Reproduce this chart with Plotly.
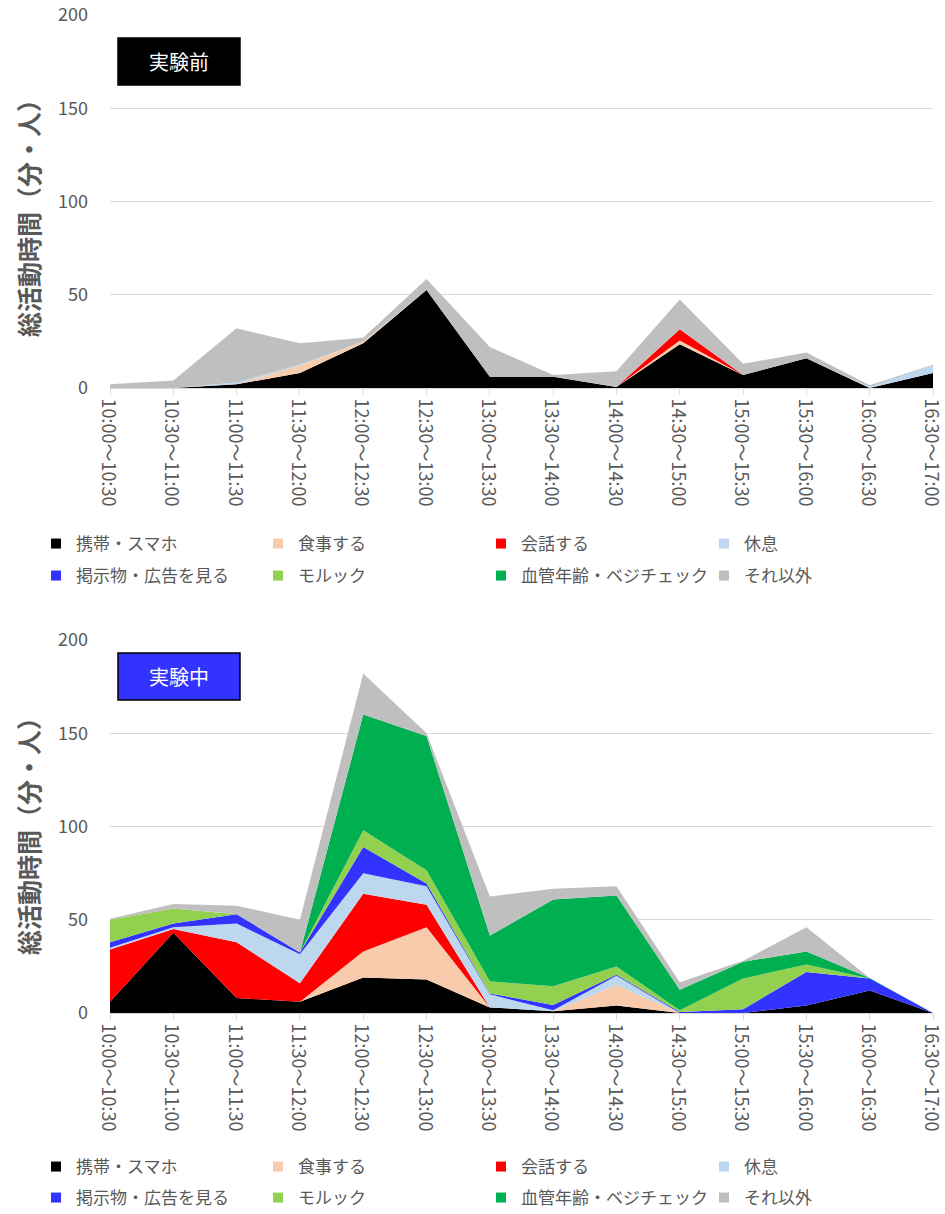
import plotly.graph_objects as go

# ---------------- data ----------------
time_labels = ["10:00～10:30", "10:30～11:00", "11:00～11:30", "11:30～12:00",
               "12:00～12:30", "12:30～13:00", "13:00～13:30", "13:30～14:00",
               "14:00～14:30", "14:30～15:00", "15:00～15:30", "15:30～16:00",
               "16:00～16:30", "16:30～17:00"]

series_names = ["携帯・スマホ", "食事する", "会話する", "休息",
                "掲示物・広告を見る", "モルック", "血管年齢・ベジチェック", "それ以外"]
series_colors = ["#000000", "#F8CBAD", "#FF0000", "#BDD7EE",
                 "#3333FF", "#92D050", "#00B050", "#BFBFBF"]

# 実験前 (before)
phone_before  = [0, 0, 2, 8, 24, 52.5, 6, 6, 0.5, 23.5, 7, 16, 0, 8]
meal_before   = [0, 0, 0, 4, 1, 0, 0, 0, 0, 2, 0, 0, 0, 0]
talk_before   = [0, 0, 0, 0, 0, 0, 0, 0, 0, 6, 0, 0, 0, 0]
rest_before   = [0, 0, 1, 0.5, 0, 0, 0, 0, 0, 0, 0, 0, 0.5, 4]
poster_before = [0, 0, 0, 0, 0, 0, 0, 0, 0, 0, 0, 0, 0, 0]
molkky_before = [0, 0, 0, 0, 0, 0, 0, 0, 0, 0, 0, 0, 0, 0]
vessel_before = [0, 0, 0, 0, 0, 0, 0, 0, 0, 0, 0, 0, 0, 0]
other_before  = [2, 4, 29, 11.5, 2, 6, 16, 1, 8.5, 16, 6, 3, 1, 0.5]

# 実験中 (during)
phone_during  = [6, 43, 8, 6, 19, 18, 3, 1, 4, 0, 0, 4, 12, 0]
meal_during   = [0, 0, 0, 0, 14, 28, 0, 0, 11, 0, 0, 0, 0, 0]
talk_during   = [28, 2, 30, 10, 31, 12, 0, 0, 0, 0, 0, 0, 0, 0]
rest_during   = [1, 1, 10, 15.5, 11, 10, 7, 0.5, 5, 0, 0, 0, 0, 0]
poster_during = [3, 2, 5, 1, 14, 1.5, 0.5, 2.8, 0.5, 0.5, 2, 18, 6.5, 0]
molkky_during = [12, 8, 0, 0, 9, 7, 6.5, 10, 4.5, 1, 16.5, 4, 0, 0]
vessel_during = [0, 0, 0, 0, 62, 72, 24.5, 46.5, 38, 11, 9, 7, 0.3, 0]
other_during  = [0.5, 2.5, 4.5, 17.5, 22, 1.5, 21, 5.8, 5, 4, 0.5, 13, 0, 0]

y_ticks = [0, 50, 100, 150, 200]
panel_titles = ["実験前", "実験中"]
y_title = "総活動時間（分・人）"

before = [phone_before, meal_before, talk_before, rest_before,
          poster_before, molkky_before, vessel_before, other_before]
during = [phone_during, meal_during, talk_during, rest_during,
          poster_during, molkky_during, vessel_during, other_during]

# ---------------- figure ----------------
FONT = "Noto Sans CJK JP"
GRAY_TXT = "#595959"
GRID = "#D9D9D9"
x_idx = list(range(len(time_labels)))

M_L, M_R, M_T, M_B = 110, 12, 15, 201
H_PLOT = 1214 - M_T - M_B
W_PLOT = 945 - M_L - M_R


def py(px):
    return (1013 - px) / H_PLOT


def pxx(px):
    return (px - M_L) / W_PLOT


fig = go.Figure()

col_centers = [60, 282, 505, 728]
panels = [("x", "y", before, "top", [544, 576]),
          ("x2", "y2", during, "bot", [1167, 1198])]

legend_layouts = {}
leg_n = 0
for xa, ya, data, grp, rows in panels:
    for i, (name, color, vals) in enumerate(zip(series_names, series_colors, data)):
        fig.add_trace(go.Scatter(
            x=x_idx, y=vals, name=name, xaxis=xa, yaxis=ya,
            stackgroup=grp, mode="lines", line=dict(width=0, color=color),
            fillcolor=color, showlegend=False, legendgroup=grp + str(i),
            hovertemplate=name + ": %{y}<extra></extra>"))
    for i, (name, color) in enumerate(zip(series_names, series_colors)):
        leg_n += 1
        key = "legend" if leg_n == 1 else "legend%d" % leg_n
        fig.add_trace(go.Scatter(
            x=[None], y=[None], name=name, xaxis=xa, yaxis=ya,
            mode="markers", marker=dict(symbol="square", size=10, color=color),
            legend=key, legendgroup=grp + str(i), showlegend=True))
        cx = col_centers[i % 4]
        ry = rows[i // 4]
        legend_layouts[key] = dict(
            orientation="h", xanchor="left", yanchor="middle",
            x=pxx(cx - 24), y=py(ry), bgcolor="rgba(0,0,0,0)",
            font=dict(family=FONT, size=17, color=GRAY_TXT),
            itemclick=False, itemdoubleclick=False)

axis_x = dict(range=[0, 13], tickmode="array", tickvals=x_idx, ticktext=time_labels,
              tickangle=90, showgrid=False, showline=True, linecolor=GRID, linewidth=1,
              ticks="outside", ticklen=6, tickcolor=GRID, ticklabeloverflow="allow",
              ticklabelshift=-2,
              tickfont=dict(family=FONT, size=18, color=GRAY_TXT), zeroline=False,
              fixedrange=True)
axis_y = dict(range=[0, 200], tickmode="array", tickvals=y_ticks, showgrid=True,
              gridcolor=GRID, gridwidth=1, zeroline=False, showline=False,
              tickfont=dict(family=FONT, size=18, color=GRAY_TXT), ticks="",
              ticklabelstandoff=21, fixedrange=True)

fig.update_layout(
    width=945, height=1214,
    margin=dict(l=M_L, r=M_R, t=M_T, b=M_B, autoexpand=False),
    paper_bgcolor="white", plot_bgcolor="white",
    font=dict(family=FONT, color=GRAY_TXT),
    xaxis=dict(axis_x, anchor="y"),
    yaxis=dict(axis_y, domain=[py(388), 1.0], anchor="x"),
    xaxis2=dict(axis_x, anchor="y2"),
    yaxis2=dict(axis_y, domain=[0.0, py(640)], anchor="x2"),
)
fig.update_layout(legend_layouts)

# panel labels
box_specs = [(38, 85, "#000000", "#000000"), (653, 700, "#3333FF", "#000000")]
for (top, bot, fill, border), title in zip(box_specs, panel_titles):
    fig.add_shape(type="rect", xref="paper", yref="paper",
                  x0=pxx(118), x1=pxx(240), y0=py(bot), y1=py(top),
                  fillcolor=fill, line=dict(color=border, width=1.5), layer="above")
    fig.add_annotation(xref="paper", yref="paper", x=pxx(179), y=py((top + bot) / 2),
                       text=title, showarrow=False, xanchor="center", yanchor="middle",
                       font=dict(family=FONT, size=20, color="white"))

# y axis titles
for cy in [212, 830]:
    fig.add_annotation(xref="paper", yref="paper", x=pxx(28), y=py(cy),
                       text="<b>" + y_title + "</b>", textangle=-90, showarrow=False,
                       xanchor="center", yanchor="middle",
                       font=dict(family=FONT, size=25, color=GRAY_TXT))

fig.write_html("out.html")
